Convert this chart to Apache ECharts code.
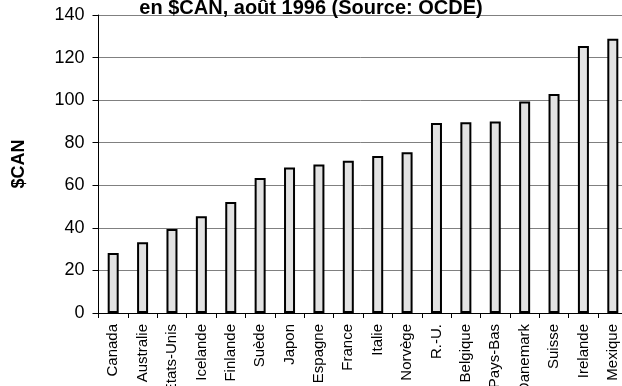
<!DOCTYPE html>
<html>
<head>
<meta charset="utf-8">
<script src="https://cdn.jsdelivr.net/npm/echarts@6/dist/echarts.min.js"></script>
<style>
  html, body { margin: 0; padding: 0; background: #ffffff; }
  #chart { width: 622px; height: 386px; }
</style>
</head>
<body>
<div id="chart"></div>
<script>
// Prix en $CAN par pays, août 1996 (Source: OCDE)
const countries = ['Canada', 'Australie', 'États-Unis', 'Icelande', 'Finlande', 'Suède', 'Japon',
  'Espagne', 'France', 'Italie', 'Norvège', 'R.-U.', 'Belgique', 'Pays-Bas', 'Danemark',
  'Suisse', 'Irelande', 'Mexique'];
const prices = [28.2, 33.2, 39.5, 45.4, 52.1, 63.4, 68.3, 69.8, 71.5, 73.7, 75.5, 89.3, 89.6,
  90.0, 99.4, 102.9, 125.4, 128.9];
const yTicks = [0, 20, 40, 60, 80, 100, 120, 140];

const font = 'Liberation Sans, Arial, sans-serif';
const chart = echarts.init(document.getElementById('chart'), null, { renderer: 'canvas' });

chart.setOption({
  animation: false,
  backgroundColor: '#ffffff',
  title: {
    text: 'en $CAN, août 1996 (Source: OCDE)',
    left: 'center',
    top: -2,
    padding: 0,
    textStyle: { fontFamily: font, fontSize: 20, fontWeight: 'bold', color: '#000', lineHeight: 20 }
  },
  grid: {
    left: 98.5, right: -5.5, top: 15, bottom: 73,
    containLabel: false,
    outerBoundsMode: 'none'
  },
  xAxis: {
    type: 'category',
    data: countries,
    boundaryGap: true,
    axisLine: { lineStyle: { color: '#000', width: 1 } },
    axisTick: { show: true, length: 5, lineStyle: { color: '#000' } },
    axisLabel: { rotate: 90, margin: 11, interval: 0, fontFamily: font, fontSize: 15, color: '#000' }
  },
  yAxis: {
    type: 'value',
    min: yTicks[0],
    max: yTicks[yTicks.length - 1],
    interval: 20,
    name: '$CAN',
    nameLocation: 'middle',
    nameGap: 70,
    nameRotate: 90,
    nameTextStyle: { fontFamily: font, fontSize: 18, fontWeight: 'bold', color: '#000' },
    axisLine: { show: true, lineStyle: { color: '#000', width: 1 } },
    axisTick: { show: true, length: 6, lineStyle: { color: '#000' } },
    axisLabel: { margin: 14, fontFamily: font, fontSize: 18, color: '#000' },
    splitLine: { show: true, lineStyle: { color: '#808080', width: 1 } }
  },
  series: [{
    type: 'bar',
    data: prices,
    barWidth: 11,
    itemStyle: { color: '#e2e2e2', borderColor: '#000', borderWidth: 2 }
  }]
});
</script>
</body>
</html>
